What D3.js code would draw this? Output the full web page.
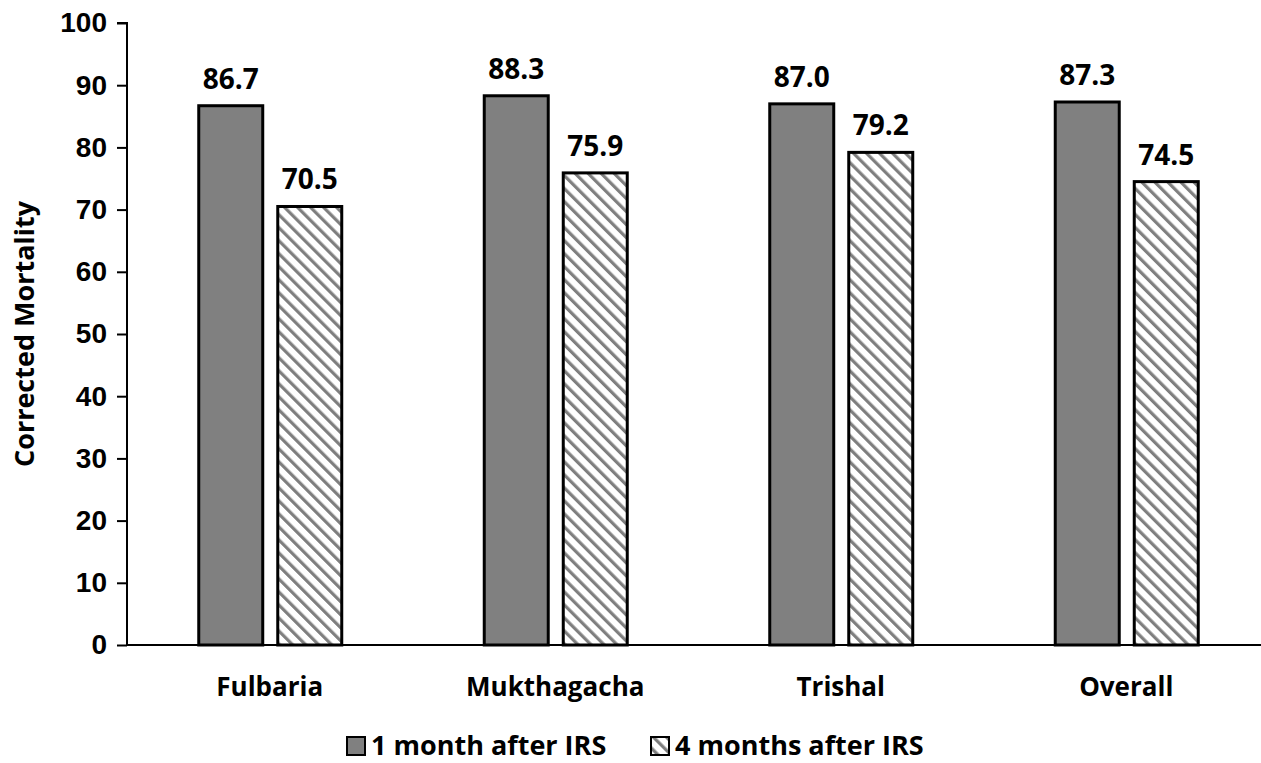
<!DOCTYPE html>
<meta charset="utf-8">
<style>
    html, body { margin: 0; padding: 0; background: #fff; }
    svg { display: block; font-family: "Open Sans", "Noto Sans", sans-serif; font-weight: 700; }
</style>
<svg id="chart" width="1261" height="763"></svg>
<script src="https://d3js.org/d3.v7.min.js"></script>
<script>
    // data
    const categories = ["Fulbaria", "Mukthagacha", "Trishal", "Overall"];
    const seriesNames = ["1 month after IRS", "4 months after IRS"];
    const oneMonth = [86.7, 88.3, 87.0, 87.3];
    const fourMonths = [70.5, 75.9, 79.2, 74.5];
    const yTicks = [0, 10, 20, 30, 40, 50, 60, 70, 80, 90, 100];

    const svg = d3.select("#chart");
    const plotLeft = 127, plotTop = 23, plotBottom = 645, plotRight = 1269;

    const x = d3.scaleBand().domain(categories).range([plotLeft, plotRight]);
    const bw = x.bandwidth();
    const x1 = d3.scaleBand().domain(seriesNames)
        .range([bw / 2 - 71, bw / 2 + 72]).paddingInner(0.19);
    const y = d3.scaleLinear().domain([0, 100]).range([plotBottom, plotTop]);

    // hatch pattern for the second series (stripes running down to the right)
    const defs = svg.append("defs");
    const pat = defs.append("pattern")
        .attr("id", "hatch")
        .attr("patternUnits", "userSpaceOnUse")
        .attr("width", 9.2).attr("height", 9.2)
        .attr("patternTransform", "rotate(-45)");
    pat.append("rect").attr("width", 9.2).attr("height", 9.2).attr("fill", "#fff");
    pat.append("rect").attr("x", 0).attr("width", 3.2).attr("height", 9.2).attr("fill", "#7f7f7f");

    const rows = categories.map((c, i) => ({cat: c, vals: [oneMonth[i], fourMonths[i]]}));
    const fills = ["#808080", "url(#hatch)"];

    // y axis
    const yAxis = svg.append("g")
        .attr("transform", `translate(${plotLeft},0)`)
        .call(d3.axisLeft(y).tickValues(yTicks).tickSize(10).tickPadding(10));
    yAxis.select(".domain").attr("stroke", "#000").attr("stroke-width", 2)
        .attr("d", `M-10,${plotTop}H0V${plotBottom}`);
    yAxis.selectAll(".tick line").attr("stroke", "#000").attr("stroke-width", 2);
    yAxis.selectAll(".tick text").attr("fill", "#000")
        .style("font-size", "28px").style("font-weight", 700);

    // groups and bars
    const groups = svg.append("g").selectAll("g")
        .data(rows).join("g")
        .attr("transform", d => `translate(${x(d.cat)},0)`);

    groups.selectAll("rect")
        .data(d => d.vals.map((v, j) => ({key: seriesNames[j], v: v, j: j})))
        .join("rect")
        .attr("x", d => x1(d.key))
        .attr("y", d => y(d.v))
        .attr("width", x1.bandwidth())
        .attr("height", d => plotBottom - y(d.v))
        .attr("fill", d => fills[d.j])
        .attr("stroke", "#000")
        .attr("stroke-width", 3);

    groups.selectAll("text.lbl")
        .data(d => d.vals.map((v, j) => ({key: seriesNames[j], v: v})))
        .join("text")
        .attr("class", "lbl")
        .attr("x", d => x1(d.key) + x1.bandwidth() / 2)
        .attr("y", d => y(d.v) - 17)
        .attr("text-anchor", "middle")
        .style("font-size", "28px")
        .text(d => d.v.toFixed(1));

    // x axis
    svg.append("line")
        .attr("x1", plotLeft).attr("x2", plotRight)
        .attr("y1", plotBottom).attr("y2", plotBottom)
        .attr("stroke", "#000").attr("stroke-width", 2);

    svg.append("g").selectAll("text")
        .data(categories).join("text")
        .attr("x", d => x(d) + bw / 2)
        .attr("y", 696)
        .attr("text-anchor", "middle")
        .style("font-size", "26px")
        .text(d => d);

    // y axis title
    svg.append("text")
        .attr("transform", "translate(34,334) rotate(-90)")
        .attr("text-anchor", "middle")
        .style("font-size", "27px")
        .text("Corrected Mortality");

    // legend
    const legendX = [347, 651];
    const leg = svg.append("g").selectAll("g")
        .data(seriesNames).join("g")
        .attr("transform", (d, i) => `translate(${legendX[i]},737)`);
    leg.append("rect")
        .attr("width", 18).attr("height", 18)
        .attr("fill", (d, i) => fills[i])
        .attr("stroke", "#000").attr("stroke-width", 2);
    leg.append("text")
        .attr("x", 24).attr("y", 18)
        .style("font-size", "27px")
        .text(d => d);
</script>
